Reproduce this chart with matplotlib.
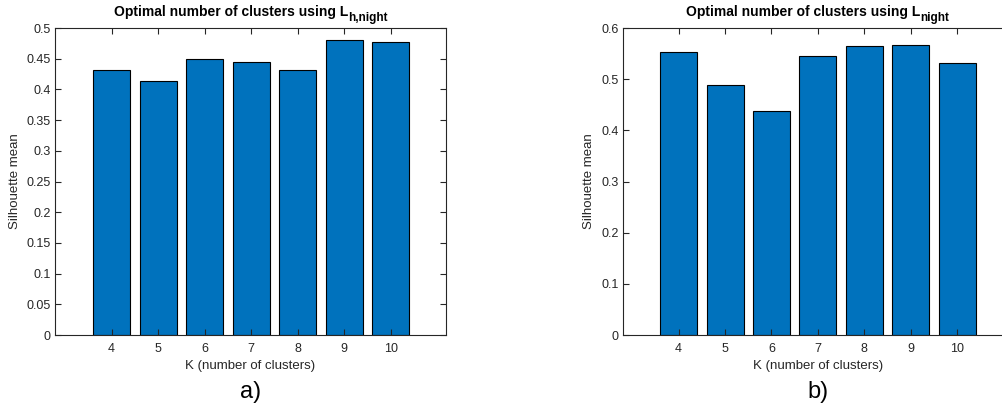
import numpy as np
import matplotlib
matplotlib.use("Agg")
import matplotlib.pyplot as plt
from matplotlib.transforms import ScaledTranslation

plt.rcParams['font.family'] = ['Liberation Sans', 'DejaVu Sans']

k = [4, 5, 6, 7, 8, 9, 10]
sil_h_night = [0.432, 0.413, 0.449, 0.444, 0.432, 0.480, 0.478]
sil_night = [0.554, 0.488, 0.437, 0.546, 0.564, 0.567, 0.531]

yticks_a = np.round(np.arange(0, 0.501, 0.05), 2)
yticks_b = np.round(np.arange(0, 0.601, 0.1), 1)
ylabels_a = ['0', '0.05', '0.1', '0.15', '0.2', '0.25', '0.3', '0.35', '0.4', '0.45', '0.5']
ylabels_b = ['0', '0.1', '0.2', '0.3', '0.4', '0.5', '0.6']

fig = plt.figure(figsize=(10.03, 4.09), dpi=100)
ax1 = fig.add_axes([0.0548, 0.1809, 0.3898, 0.7506])
ax2 = fig.add_axes([0.6211, 0.1809, 0.3887, 0.7506])

panels = [
    (ax1, sil_h_night, 'h,night', yticks_a, ylabels_a, 0.5, (2.78, 11.19), 'a)', -0.087),
    (ax2, sil_night, 'night', yticks_b, ylabels_b, 0.6, (2.8, 11.2), 'b)', -0.072),
]

titles = []
for ax, vals, sub, yt, yl, ymax, xl, tag, ylx in panels:
    ax.bar(k, vals, width=0.8, color='#0072BD', edgecolor='black', linewidth=0.8)
    ax.set_xlim(*xl)
    ax.set_ylim(0, ymax)
    ax.set_xticks(k)
    ax.set_yticks(yt)
    ax.set_yticklabels(yl)
    ax.tick_params(direction='in', top=True, right=True, length=4, width=0.8,
                   colors='#262626', labelsize=9)
    ax.tick_params(axis='x', pad=6)
    ax.tick_params(axis='y', pad=3)
    for s in ax.spines.values():
        s.set_color('#262626')
        s.set_linewidth(0.8)
    ax.set_xlabel('K (number of clusters)', fontsize=9.5, color='#262626')
    ax.set_ylabel('Silhouette mean', fontsize=9.5, color='#262626')
    ax.xaxis.set_label_coords(0.5, -0.081)
    ax.yaxis.set_label_coords(ylx, 0.5)
    ax.text(0.5, -0.185, tag, transform=ax.transAxes, ha='center', va='center',
            fontsize=17)

    # title with a bold subscript, drawn as two texts
    t1 = ax.text(0.5, 1.039, 'Optimal number of clusters using L', transform=ax.transAxes,
                 ha='right', va='baseline', fontsize=10, fontweight='bold')
    t2 = ax.text(0.5, 1.039, sub, ha='left', va='baseline', fontsize=8.5, fontweight='bold',
                 transform=ax.transAxes + ScaledTranslation(0, -3.3 / 72, fig.dpi_scale_trans))
    titles.append((ax, t1, t2))

fig.canvas.draw()
r = fig.canvas.get_renderer()
for ax, t1, t2 in titles:
    w1 = t1.get_window_extent(r).width
    w2 = t2.get_window_extent(r).width
    axw = ax.get_window_extent(r).width
    x = 0.5 + (w1 - w2) / 2 / axw
    t1.set_x(x)
    t2.set_x(x)

fig.savefig('out.png', dpi=100)
